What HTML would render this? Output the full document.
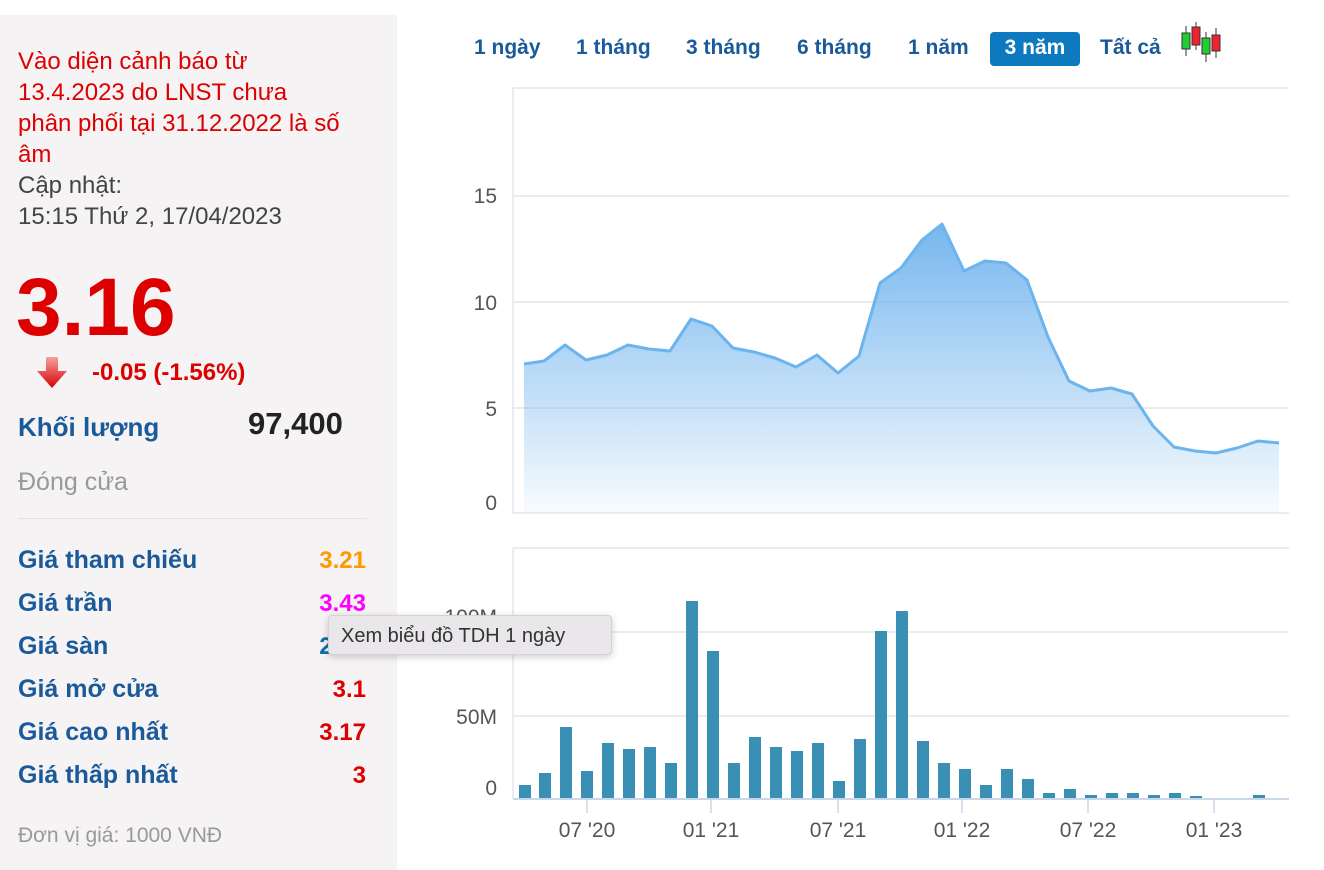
<!DOCTYPE html>
<html><head><meta charset="utf-8"><style>
body{margin:0;width:1324px;height:870px;background:#fff;position:relative;overflow:hidden;font-family:"Liberation Sans",Arial,sans-serif}
.p{position:absolute;white-space:nowrap}
#panel{position:absolute;left:0;top:15px;width:397px;height:855px;background:#f5f3f4}
.red{color:#dd0000}
.lb{color:#1b5a9a;font-weight:bold;font-size:25px;left:18px}
.v{font-weight:bold;font-size:24px;right:958px;text-align:right}
.btn{position:absolute;top:32px;height:34px;line-height:32px;font-weight:bold;font-size:21px;color:#1b5a9a}
</style></head><body>
<div id="panel"></div>
<div class="p red" style="left:18px;top:46px;font-size:24px;line-height:31px">Vào diện cảnh báo từ<br>13.4.2023 do LNST chưa<br>phân phối tại 31.12.2022 là số<br>âm</div>
<div class="p" style="left:18px;top:170px;font-size:24px;line-height:31px;color:#444">Cập nhật:<br>15:15 Thứ 2, 17/04/2023</div>
<div class="p red" style="left:16px;top:262px;font-size:82px;font-weight:bold;line-height:92px">3.16</div>
<svg class="p" style="left:36px;top:355px" width="34" height="36"><defs><linearGradient id="ar" x1="0" y1="0" x2="0" y2="1"><stop offset="0" stop-color="#f7a0a0"/><stop offset="1" stop-color="#d80000"/></linearGradient></defs><path d="M10 2h12v14h9L16 33 1 16h9z" fill="url(#ar)"/></svg>
<div class="p red" style="left:92px;top:359px;font-size:24px;font-weight:bold">-0.05 (-1.56%)</div>
<div class="p lb" style="top:412px;font-size:26px">Khối lượng</div>
<div class="p" style="left:248px;top:406px;font-size:31px;font-weight:bold;color:#222">97,400</div>
<div class="p" style="left:18px;top:468px;font-size:25px;color:#999">Đóng cửa</div>
<div class="p" style="left:18px;top:518px;width:349px;height:1px;background:#e4e2e3"></div>
<div class="p lb" style="top:546px">Giá tham chiếu</div><div class="p v" style="top:547px;color:#ff9900">3.21</div>
<div class="p lb" style="top:589px">Giá trần</div><div class="p v" style="top:590px;color:#ff00ff">3.43</div>
<div class="p lb" style="top:632px">Giá sàn</div><div class="p v" style="top:633px;color:#0b6fa8">2.99</div>
<div class="p lb" style="top:675px">Giá mở cửa</div><div class="p v" style="top:676px;color:#dd0000">3.1</div>
<div class="p lb" style="top:718px">Giá cao nhất</div><div class="p v" style="top:719px;color:#dd0000">3.17</div>
<div class="p lb" style="top:761px">Giá thấp nhất</div><div class="p v" style="top:762px;color:#dd0000">3</div>
<div class="p" style="left:18px;top:824px;font-size:21px;color:#999">Đơn vị giá: 1000 VNĐ</div>

<div class="btn" style="left:474px">1 ngày</div>
<div class="btn" style="left:576px">1 tháng</div>
<div class="btn" style="left:686px">3 tháng</div>
<div class="btn" style="left:797px">6 tháng</div>
<div class="btn" style="left:908px">1 năm</div>
<div class="btn" style="left:990px;width:90px;background:#0d7abf;color:#fff;border-radius:4px;text-align:center">3 năm</div>
<div class="btn" style="left:1100px">Tất cả</div>
<svg class="p" style="left:1180px;top:22px" width="44" height="42"><g stroke="#333" stroke-width="1"><line x1="6" y1="4" x2="6" y2="34"/><line x1="16" y1="0" x2="16" y2="28"/><line x1="26" y1="10" x2="26" y2="40"/><line x1="36" y1="6" x2="36" y2="36"/></g><rect x="2" y="11" width="8" height="16" fill="#22cc33" stroke="#333"/><rect x="12" y="5" width="8" height="18" fill="#ee2233" stroke="#333"/><rect x="22" y="16" width="8" height="16" fill="#22cc33" stroke="#333"/><rect x="32" y="13" width="8" height="16" fill="#ee2233" stroke="#333"/></svg>

<svg class="p" style="left:0;top:0" width="1324" height="870" font-family="Liberation Sans,Arial,sans-serif">
<defs><linearGradient id="g" x1="0" y1="0" x2="0" y2="1"><stop offset="0" stop-color="#6fb3ee" stop-opacity="0.95"/><stop offset="1" stop-color="#6fb3ee" stop-opacity="0.05"/></linearGradient></defs>
<g stroke="#e3e6ea" stroke-width="1.5">
<line x1="513" y1="88" x2="1289" y2="88"/><line x1="513" y1="196" x2="1289" y2="196"/><line x1="513" y1="302" x2="1289" y2="302"/><line x1="513" y1="408" x2="1289" y2="408"/><line x1="513" y1="513" x2="1289" y2="513"/>
<line x1="513" y1="88" x2="513" y2="513"/>
<line x1="513" y1="548" x2="1289" y2="548"/><line x1="513" y1="632" x2="1289" y2="632"/><line x1="513" y1="716" x2="1289" y2="716"/>
<line x1="513" y1="548" x2="513" y2="799"/>
</g>
<g fill="#555" font-size="21" text-anchor="end">
<text x="497" y="203">15</text><text x="497" y="310">10</text><text x="497" y="416">5</text><text x="497" y="510">0</text>
<text x="497" y="624">100M</text><text x="497" y="724">50M</text><text x="497" y="795">0</text>
</g>
<polygon fill="url(#g)" points="524,513 524,364 544,361 565,345 586,360 607,355 628,345 649,349 670,351 691,319 712,326 733,348 754,352 775,358 796,367 817,355 838,373 859,356 880,283 901,268 922,240 942,224 964,271 985,261 1006,263 1027,280 1048,337 1069,381 1090,391 1111,388 1132,394 1153,426 1174,447 1195,451 1216,453 1237,448 1258,441 1279,443 1279,513"/>
<polyline fill="none" stroke="#6cb4ee" stroke-width="3" stroke-linejoin="round" points="524,364 544,361 565,345 586,360 607,355 628,345 649,349 670,351 691,319 712,326 733,348 754,352 775,358 796,367 817,355 838,373 859,356 880,283 901,268 922,240 942,224 964,271 985,261 1006,263 1027,280 1048,337 1069,381 1090,391 1111,388 1132,394 1153,426 1174,447 1195,451 1216,453 1237,448 1258,441 1279,443"/>
<g fill="#3a8fb5">
<rect x="519" y="785" width="12" height="14"/><rect x="539" y="773" width="12" height="26"/><rect x="560" y="727" width="12" height="72"/><rect x="581" y="771" width="12" height="28"/><rect x="602" y="743" width="12" height="56"/><rect x="623" y="749" width="12" height="50"/><rect x="644" y="747" width="12" height="52"/><rect x="665" y="763" width="12" height="36"/><rect x="686" y="601" width="12" height="198"/><rect x="707" y="651" width="12" height="148"/><rect x="728" y="763" width="12" height="36"/><rect x="749" y="737" width="12" height="62"/><rect x="770" y="747" width="12" height="52"/><rect x="791" y="751" width="12" height="48"/><rect x="812" y="743" width="12" height="56"/><rect x="833" y="781" width="12" height="18"/><rect x="854" y="739" width="12" height="60"/><rect x="875" y="631" width="12" height="168"/><rect x="896" y="611" width="12" height="188"/><rect x="917" y="741" width="12" height="58"/><rect x="938" y="763" width="12" height="36"/><rect x="959" y="769" width="12" height="30"/><rect x="980" y="785" width="12" height="14"/><rect x="1001" y="769" width="12" height="30"/><rect x="1022" y="779" width="12" height="20"/><rect x="1043" y="793" width="12" height="6"/><rect x="1064" y="789" width="12" height="10"/><rect x="1085" y="795" width="12" height="4"/><rect x="1106" y="793" width="12" height="6"/><rect x="1127" y="793" width="12" height="6"/><rect x="1148" y="795" width="12" height="4"/><rect x="1169" y="793" width="12" height="6"/><rect x="1190" y="796" width="12" height="3"/><rect x="1253" y="795" width="12" height="4"/>
</g>
<line x1="513" y1="799" x2="1289" y2="799" stroke="#c8d8e8" stroke-width="2"/>
<g stroke="#c8d8e8" stroke-width="1.5"><line x1="587" y1="799" x2="587" y2="813"/><line x1="711" y1="799" x2="711" y2="813"/><line x1="838" y1="799" x2="838" y2="813"/><line x1="962" y1="799" x2="962" y2="813"/><line x1="1088" y1="799" x2="1088" y2="813"/><line x1="1214" y1="799" x2="1214" y2="813"/></g>
<g fill="#555" font-size="21" text-anchor="middle">
<text x="587" y="837">07 '20</text><text x="711" y="837">01 '21</text><text x="838" y="837">07 '21</text><text x="962" y="837">01 '22</text><text x="1088" y="837">07 '22</text><text x="1214" y="837">01 '23</text>
</g>
</svg>
<div class="p" style="left:328px;top:615px;width:284px;height:40px;background:#e9e7ea;border:1px solid #d4d2d6;border-radius:4px;box-shadow:0 2px 8px rgba(0,0,0,0.2);font-size:20px;line-height:40px;color:#333;box-sizing:border-box;padding-left:12px">Xem biểu đồ TDH 1 ngày</div>
</body></html>
